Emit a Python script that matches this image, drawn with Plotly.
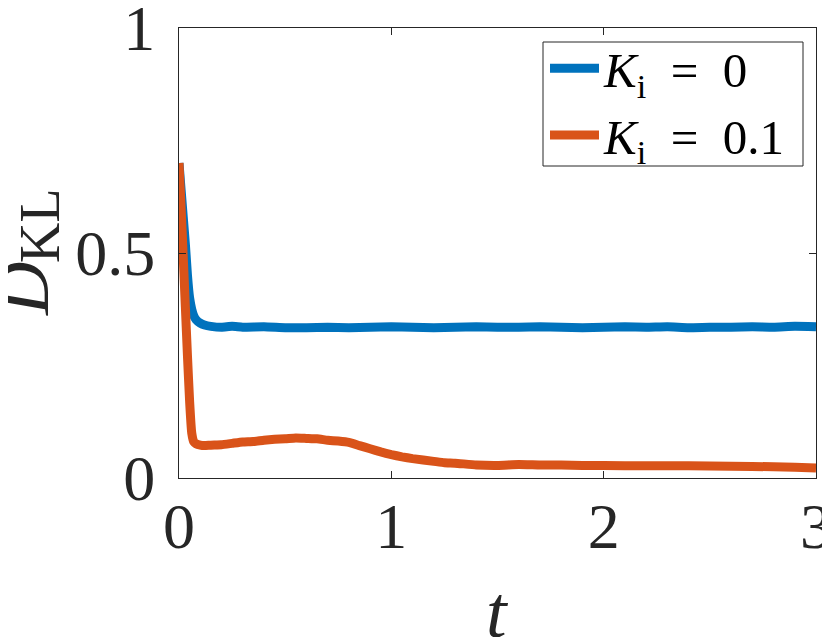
import plotly.graph_objects as go

# time samples
t_blue = [0, 0.01, 0.02, 0.03, 0.04, 0.05, 0.06, 0.07, 0.08, 0.1, 0.12, 0.15, 0.2, 0.25, 0.3,
          0.4, 0.5, 0.6, 0.7, 0.8, 0.9, 1.0, 1.1, 1.2, 1.3, 1.4, 1.5, 1.6, 1.7, 1.8, 1.9,
          2.0, 2.1, 2.2, 2.3, 2.4, 2.5, 2.6, 2.7, 2.8, 2.9, 3.0]
d_blue = [0.70, 0.64, 0.58, 0.52, 0.45, 0.40, 0.375, 0.36, 0.352, 0.344, 0.34, 0.337, 0.335, 0.337, 0.335,
          0.336, 0.334, 0.334, 0.335, 0.334, 0.335, 0.336, 0.335, 0.334, 0.335, 0.336, 0.335, 0.335, 0.336, 0.335, 0.334,
          0.335, 0.336, 0.335, 0.336, 0.334, 0.335, 0.335, 0.336, 0.335, 0.337, 0.336]

t_orange = [0, 0.01, 0.02, 0.03, 0.04, 0.05, 0.06, 0.07, 0.08, 0.1, 0.12, 0.15, 0.2, 0.25, 0.3,
            0.35, 0.4, 0.45, 0.5, 0.55, 0.6, 0.65, 0.7, 0.75, 0.8, 0.85, 0.9, 0.95, 1.0, 1.05, 1.1,
            1.2, 1.25, 1.3, 1.4, 1.5, 1.6, 1.7, 1.8, 1.9, 2.0, 2.2, 2.4, 2.6, 2.8, 2.9, 3.0]
d_orange = [0.70, 0.60, 0.49, 0.38, 0.27, 0.17, 0.10, 0.08, 0.076, 0.073, 0.072, 0.073, 0.074, 0.077, 0.080,
            0.081, 0.084, 0.086, 0.087, 0.089, 0.088, 0.087, 0.084, 0.082, 0.079, 0.072, 0.065, 0.058, 0.052, 0.047, 0.043,
            0.037, 0.034, 0.033, 0.029, 0.028, 0.030, 0.029, 0.029, 0.028, 0.028, 0.027, 0.027, 0.026, 0.025, 0.024, 0.022]

names = ["<i>K</i><sub>i</sub>&nbsp;&nbsp;=&nbsp;&nbsp;0", "<i>K</i><sub>i</sub>&nbsp;&nbsp;=&nbsp;&nbsp;0.1"]
colors = ["#0072BD", "#D95319"]

x_ticks = [0, 1, 2, 3]
y_ticks = [0, 0.5, 1]
y_tick_labels = ["0", "0.5", "1"]
x_title = "<i>t</i>"
y_title_main = "<i>D</i>"
y_title_sub = "KL"

FONT = "Liberation Serif"
AX = "#262626"

# the page body adds an 8px offset; plot area is placed so it lands at
# screen x 179..816, y 28..478
OFF = 8
L, R, T, B = 179 - OFF, 830 - (816 - OFF), 28 - OFF, 637 - (478 - OFF)
PW, PH = 816 - 179, 478 - 28


def px(x):
    return (x - 179) / PW


def py(y):
    return (478 - y) / PH


fig = go.Figure()
fig.add_trace(go.Scatter(x=t_blue, y=d_blue, mode="lines", name=names[0],
                         line=dict(color=colors[0], width=9, shape="spline", smoothing=0.4)))
fig.add_trace(go.Scatter(x=t_orange, y=d_orange, mode="lines", name=names[1],
                         line=dict(color=colors[1], width=9, shape="spline", smoothing=0.4)))

axis_common = dict(showline=True, linecolor=AX, linewidth=1, mirror="ticks", ticks="inside",
                   ticklen=7, tickcolor=AX, showgrid=False, zeroline=False, automargin=False,
                   ticklabeloverflow="allow",
                   tickfont=dict(family=FONT, size=64, color=AX))

fig.update_layout(
    width=830, height=637,
    margin=dict(l=L, r=R, t=T, b=B),
    plot_bgcolor="white", paper_bgcolor="white",
    font=dict(family=FONT, color=AX),
    xaxis=dict(range=[0, 3], tickvals=x_ticks, ticklabelstandoff=-8, **axis_common),
    yaxis=dict(range=[0, 1], tickvals=y_ticks, ticktext=y_tick_labels, ticklabelstandoff=10,
               **axis_common),
    legend=dict(x=px(791), y=py(30), xanchor="right", yanchor="top",
                borderwidth=0, bgcolor="rgba(0,0,0,0)",
                font=dict(family=FONT, size=49, color="black"),
                itemwidth=49, tracegroupgap=0),
    showlegend=True,
    shapes=[
        dict(type="rect", xref="paper", yref="paper", x0=px(543), x1=px(803), y0=py(166), y1=py(42),
             line=dict(color=AX, width=1), fillcolor="white", layer="above"),
    ],
    annotations=[
        dict(text=x_title, xref="paper", yref="paper", x=px(497), y=py(612),
             xanchor="center", yanchor="middle", showarrow=False,
             font=dict(family=FONT, size=74, color=AX)),
        dict(text=y_title_main, xref="paper", yref="paper", x=px(23), y=py(289),
             xanchor="center", yanchor="middle", showarrow=False, textangle=-90,
             font=dict(family=FONT, size=74, color=AX)),
        dict(text=y_title_sub, xref="paper", yref="paper", x=px(40), y=py(226),
             xanchor="center", yanchor="middle", showarrow=False, textangle=-90,
             font=dict(family=FONT, size=56, color=AX)),
    ],
)

fig.write_html("out.html")
